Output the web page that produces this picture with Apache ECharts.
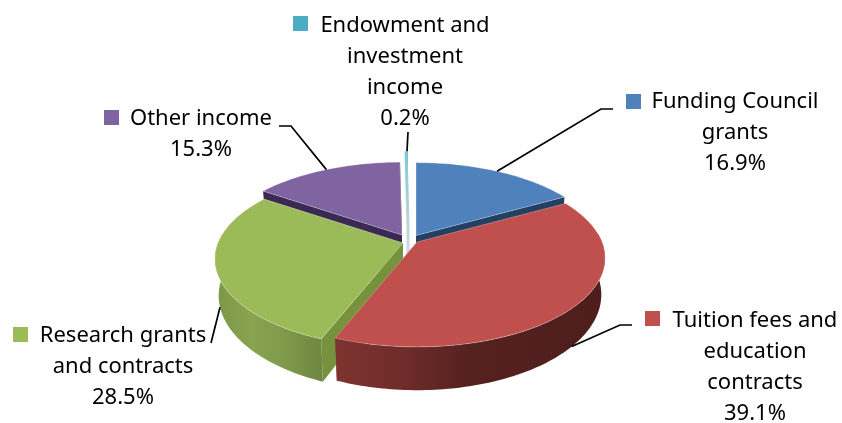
<!DOCTYPE html>
<html>
<head>
<meta charset="utf-8">
<style>html,body{margin:0;padding:0;background:#fff}#chart{width:842px;height:423px}</style>
<script src="https://cdn.jsdelivr.net/npm/echarts@6/dist/echarts.min.js"></script>
</head>
<body>
<div id="chart"></div>
<script>
// Income sources, clockwise from twelve o'clock
const categories = ['Funding Council grants', 'Tuition fees and education contracts', 'Research grants and contracts', 'Other income', 'Endowment and investment income'];
const shares = [16.9, 39.1, 28.5, 15.3, 0.2];
const labelLines = [
  ['Funding Council', 'grants'],
  ['Tuition fees and', 'education', 'contracts'],
  ['Research grants', 'and contracts'],
  ['Other income'],
  ['Endowment and', 'investment', 'income']
];

// Drawing styles, one entry per slice
const topColors = ['#4f81bd', '#c0504d', '#9bbb59', '#8064a2', '#4bacc6'];
const cutColors = ['#234062', '#8c3836', '#76923c', '#3a2954', '#9fd0dc'];
const wallStops = [
  [[0, '#2f4d73'], [1, '#2f4d73']],
  [[0, '#7f3330'], [0.25, '#6f2c2a'], [0.5, '#55211f'], [1, '#4e1e1c']],
  [[0, '#7b9646'], [0.35, '#88a450'], [0.7, '#7d9849'], [1, '#6d8840']],
  [[0, '#4d3c6a'], [1, '#4d3c6a']],
  [[0, '#7fc9da'], [1, '#7fc9da']]
];
const paintOrder = [2, 5, 4, 1, 3];

// Tilted-disc projection and where each slice's tip sits once pulled out
const discWidth = 185, discHeight = 86, perspective = 0.18, depth = 35.5, baseNarrow = 0.98;
const tips = [[416, 235.5], [417, 242], [403, 243], [402, 235], [408, 224]];
const wallFrom = 84 * Math.PI / 180, wallTo = 276 * Math.PI / 180;

// Label blocks: text centre, first baseline row, legend key, leader bend and end
const fontFamily = '"Noto Sans", "Open Sans", sans-serif';
const fontSize = 22, lineGap = 31;
const labelBoxes = [
  { x: 735, y: 102, key: [626, 94] },
  { x: 755, y: 321, key: [645, 311] },
  { x: 123, y: 336, key: [13, 327] },
  { x: 201, y: 119, key: [104, 110] },
  { x: 405, y: 26, key: [293, 16] }
];
const leaders = [
  [[601, 109], [613, 109]],
  [[620, 325], [632, 325]],
  [[211, 343]],
  [[291, 126], [279, 126]],
  [[408, 132]]
];

const total = shares.reduce((a, b) => a + b, 0);
const startShares = shares.map((_, i) => shares.slice(0, i).reduce((a, b) => a + b, 0));

function project(tip, angle, radius, lower) {
  const px = radius * Math.sin(angle), py = -radius * Math.cos(angle);
  const s = 1 / (1 - perspective * py);
  const narrow = lower ? baseNarrow : 1;
  return [
    tip[0] + discWidth * px * s * narrow,
    tip[1] + discHeight * py * s + (lower ? depth * s : 0)
  ];
}

function arcPoints(tip, a0, a1, lower) {
  const n = Math.max(2, Math.ceil(Math.abs(a1 - a0) / 0.02));
  const pts = [];
  for (let i = 0; i <= n; i++) pts.push(project(tip, a0 + (a1 - a0) * i / n, 1, lower));
  return pts;
}

function renderSlice(params, api) {
  const i = params.dataIndex;
  const value = api.value(0);
  const a0 = startShares[i] / total * 2 * Math.PI;
  const a1 = a0 + value / total * 2 * Math.PI;
  const tip = tips[i];
  const z = paintOrder[i] * 10;
  const topRim = arcPoints(tip, a0, a1, false);
  const lowRim = arcPoints(tip, a0, a1, true);
  const tipLow = project(tip, 0, 0, true);
  const children = [];

  // Cut faces at both ends of the wedge
  [[topRim[0], lowRim[0]], [topRim[topRim.length - 1], lowRim[lowRim.length - 1]]].forEach(e => {
    children.push({
      type: 'polygon', z2: z,
      shape: { points: [tip, e[0], e[1], tipLow] },
      style: { fill: cutColors[i] }
    });
  });

  // Outer wall, only along the part of the rim that faces forward
  const w0 = Math.max(a0, wallFrom), w1 = Math.min(a1, wallTo);
  if (w1 > w0) {
    const wallTop = arcPoints(tip, w0, w1, false);
    const wallLow = arcPoints(tip, w0, w1, true);
    const xs = wallTop.map(p => p[0]);
    children.push({
      type: 'polygon', z2: z + 1,
      shape: { points: wallTop.concat(wallLow.slice().reverse()) },
      style: {
        fill: new echarts.graphic.LinearGradient(
          Math.min.apply(null, xs), 0, Math.max.apply(null, xs), 0,
          wallStops[i].map(s => ({ offset: s[0], color: s[1] })), true)
      }
    });
  }

  children.push({
    type: 'polygon', z2: z + 2,
    shape: { points: [tip].concat(topRim) },
    style: { fill: topColors[i], stroke: 'rgba(255,255,255,0.35)', lineWidth: 0.8, lineJoin: 'round' }
  });

  // A very thin wedge reads as a pale vertical strip from rim to base
  if (value < 1) {
    children.push({
      type: 'polyline', z2: z + 3,
      shape: { points: [topRim[0], tip, tipLow] },
      style: {
        fill: null, lineWidth: 3,
        stroke: new echarts.graphic.LinearGradient(0, topRim[0][1], 0, tipLow[1], [
          { offset: 0, color: '#7fc9da' }, { offset: 0.6, color: '#b5d3da' }, { offset: 1, color: '#d5d9de' }
        ], true)
      }
    });
  }

  // Leader from the middle of the rim to the label
  const mid = (a0 + a1) / 2;
  const front = -Math.cos(mid) > 0;
  const start = project(tip, mid, 1, front);
  children.push({
    type: 'polyline', z2: 200,
    shape: { points: [start].concat(leaders[i]) },
    style: { fill: null, stroke: '#000', lineWidth: 1.7 }
  });

  // Legend key and label text
  const box = labelBoxes[i];
  children.push({
    type: 'rect', z2: 200,
    shape: { x: box.key[0], y: box.key[1], width: 15, height: 15 },
    style: { fill: topColors[i] }
  });
  labelLines[i].concat([value.toFixed(1) + '%']).forEach((line, k) => {
    children.push({
      type: 'text', z2: 200,
      x: box.x, y: box.y + k * lineGap,
      style: {
        text: line, fill: '#000', align: 'center', verticalAlign: 'middle',
        font: fontSize + 'px ' + fontFamily
      }
    });
  });

  return { type: 'group', children: children };
}

const chart = echarts.init(document.getElementById('chart'), null, { renderer: 'canvas' });
chart.setOption({
  animation: false,
  backgroundColor: '#fff',
  series: [{
    type: 'custom',
    coordinateSystem: 'none',
    silent: true,
    renderItem: renderSlice,
    data: shares.map((v, i) => ({ name: categories[i], value: [v] }))
  }]
});
</script>
</body>
</html>
